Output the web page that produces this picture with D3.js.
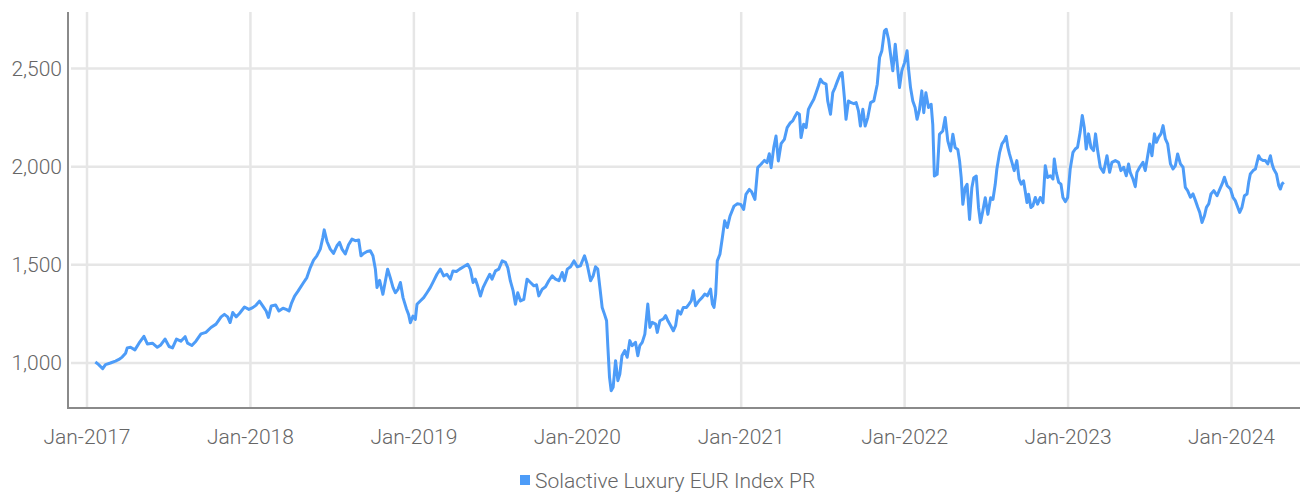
<!DOCTYPE html>
<html>
<head>
<meta charset="utf-8">
<script src="https://cdn.jsdelivr.net/npm/d3@7"></script>
<style>
  body { margin: 0; background: #fff; }
  text { font-family: Roboto, "Noto Sans", sans-serif; font-weight: 300; fill: #666; }
</style>
</head>
<body>
<div id="viz"></div>
<script>
"use strict";

// index level (decimal year -> value)
var years = [
	2017.051, 2017.07, 2017.096, 2017.113, 2017.143, 2017.174, 2017.195, 2017.215, 2017.236, 2017.246,
	2017.266, 2017.293, 2017.318, 2017.348, 2017.369, 2017.4, 2017.43, 2017.451, 2017.477, 2017.502,
	2017.523, 2017.547, 2017.574, 2017.6, 2017.615, 2017.641, 2017.666, 2017.697, 2017.727, 2017.758,
	2017.789, 2017.82, 2017.84, 2017.86, 2017.875, 2017.891, 2017.912, 2017.932, 2017.963, 2017.99,
	2018.014, 2018.035, 2018.055, 2018.076, 2018.096, 2018.11, 2018.127, 2018.154, 2018.174, 2018.199,
	2018.219, 2018.236, 2018.25, 2018.27, 2018.291, 2018.325, 2018.345, 2018.366, 2018.386, 2018.406,
	2018.427, 2018.443, 2018.451, 2018.468, 2018.488, 2018.508, 2018.529, 2018.545, 2018.56, 2018.58,
	2018.6, 2018.621, 2018.641, 2018.662, 2018.676, 2018.692, 2018.713, 2018.733, 2018.749, 2018.764,
	2018.774, 2018.79, 2018.81, 2018.825, 2018.839, 2018.855, 2018.872, 2018.886, 2018.902, 2018.917,
	2018.933, 2018.953, 2018.967, 2018.978, 2018.994, 2019.009, 2019.019, 2019.039, 2019.06, 2019.08,
	2019.1, 2019.121, 2019.141, 2019.162, 2019.182, 2019.202, 2019.223, 2019.239, 2019.26, 2019.28,
	2019.304, 2019.329, 2019.345, 2019.362, 2019.376, 2019.39, 2019.407, 2019.423, 2019.443, 2019.464,
	2019.478, 2019.499, 2019.519, 2019.54, 2019.56, 2019.574, 2019.59, 2019.607, 2019.621, 2019.635,
	2019.652, 2019.672, 2019.692, 2019.713, 2019.734, 2019.75, 2019.764, 2019.785, 2019.805, 2019.825,
	2019.846, 2019.866, 2019.887, 2019.907, 2019.921, 2019.938, 2019.958, 2019.979, 2019.999, 2020.019,
	2020.044, 2020.06, 2020.081, 2020.097, 2020.111, 2020.125, 2020.138, 2020.152, 2020.166, 2020.179,
	2020.187, 2020.197, 2020.207, 2020.219, 2020.234, 2020.248, 2020.26, 2020.273, 2020.29, 2020.305,
	2020.321, 2020.335, 2020.356, 2020.37, 2020.382, 2020.397, 2020.413, 2020.431, 2020.444, 2020.458,
	2020.479, 2020.489, 2020.505, 2020.525, 2020.54, 2020.554, 2020.571, 2020.587, 2020.601, 2020.615,
	2020.632, 2020.648, 2020.668, 2020.683, 2020.697, 2020.709, 2020.723, 2020.744, 2020.764, 2020.779,
	2020.795, 2020.815, 2020.826, 2020.836, 2020.846, 2020.856, 2020.872, 2020.887, 2020.901, 2020.917,
	2020.934, 2020.958, 2020.979, 2020.999, 2021.015, 2021.029, 2021.05, 2021.064, 2021.084, 2021.101,
	2021.121, 2021.142, 2021.158, 2021.172, 2021.183, 2021.199, 2021.213, 2021.227, 2021.244, 2021.264,
	2021.281, 2021.301, 2021.315, 2021.325, 2021.342, 2021.356, 2021.366, 2021.382, 2021.397, 2021.411,
	2021.427, 2021.444, 2021.458, 2021.472, 2021.485, 2021.499, 2021.519, 2021.529, 2021.546, 2021.56,
	2021.574, 2021.589, 2021.607, 2021.617, 2021.631, 2021.641, 2021.656, 2021.672, 2021.689, 2021.703,
	2021.717, 2021.729, 2021.744, 2021.758, 2021.774, 2021.791, 2021.811, 2021.832, 2021.846, 2021.86,
	2021.876, 2021.887, 2021.901, 2021.913, 2021.927, 2021.942, 2021.954, 2021.968, 2021.982, 2021.999,
	2022.015, 2022.023, 2022.036, 2022.05, 2022.064, 2022.076, 2022.091, 2022.105, 2022.117, 2022.13,
	2022.146, 2022.162, 2022.172, 2022.182, 2022.199, 2022.213, 2022.233, 2022.248, 2022.264, 2022.281,
	2022.295, 2022.309, 2022.325, 2022.336, 2022.346, 2022.356, 2022.37, 2022.382, 2022.397, 2022.411,
	2022.423, 2022.438, 2022.452, 2022.464, 2022.478, 2022.493, 2022.509, 2022.526, 2022.54, 2022.554,
	2022.564, 2022.581, 2022.595, 2022.609, 2022.621, 2022.631, 2022.641, 2022.656, 2022.67, 2022.686,
	2022.7, 2022.713, 2022.727, 2022.737, 2022.748, 2022.758, 2022.772, 2022.784, 2022.799, 2022.813,
	2022.829, 2022.846, 2022.86, 2022.874, 2022.891, 2022.907, 2022.915, 2022.927, 2022.942, 2022.956,
	2022.968, 2022.983, 2022.997, 2023.013, 2023.03, 2023.044, 2023.058, 2023.074, 2023.087, 2023.099,
	2023.111, 2023.125, 2023.14, 2023.156, 2023.168, 2023.181, 2023.197, 2023.217, 2023.238, 2023.254,
	2023.268, 2023.289, 2023.309, 2023.323, 2023.34, 2023.356, 2023.37, 2023.38, 2023.397, 2023.411,
	2023.421, 2023.438, 2023.458, 2023.472, 2023.487, 2023.499, 2023.513, 2023.528, 2023.54, 2023.554,
	2023.568, 2023.581, 2023.595, 2023.609, 2023.626, 2023.642, 2023.656, 2023.67, 2023.687, 2023.703,
	2023.717, 2023.731, 2023.748, 2023.764, 2023.779, 2023.793, 2023.805, 2023.819, 2023.834, 2023.846,
	2023.86, 2023.874, 2023.891, 2023.911, 2023.928, 2023.942, 2023.956, 2023.973, 2023.993, 2024.009,
	2024.023, 2024.038, 2024.05, 2024.064, 2024.079, 2024.095, 2024.105, 2024.115, 2024.132, 2024.146,
	2024.156, 2024.166, 2024.177, 2024.193, 2024.207, 2024.222, 2024.238, 2024.248, 2024.258, 2024.275,
	2024.289, 2024.299, 2024.309, 2024.32
];

var values = [
	1005, 993, 971, 992, 1000, 1010, 1018, 1030, 1050, 1077,
	1080, 1067, 1101, 1136, 1097, 1101, 1080, 1092, 1122, 1084,
	1077, 1122, 1111, 1134, 1101, 1089, 1111, 1148, 1156, 1181,
	1198, 1235, 1248, 1235, 1206, 1257, 1235, 1252, 1285, 1273,
	1282, 1295, 1315, 1290, 1265, 1232, 1290, 1295, 1265, 1279,
	1273, 1265, 1302, 1341, 1366, 1410, 1435, 1486, 1524, 1546,
	1580, 1640, 1678, 1619, 1580, 1558, 1597, 1614, 1580, 1555,
	1602, 1631, 1623, 1626, 1546, 1558, 1568, 1572, 1546, 1478,
	1384, 1421, 1350, 1418, 1478, 1435, 1384, 1358, 1375, 1410,
	1333, 1278, 1247, 1205, 1239, 1222, 1299, 1316, 1333, 1358,
	1384, 1418, 1452, 1478, 1444, 1452, 1427, 1469, 1466, 1478,
	1490, 1503, 1478, 1410, 1427, 1392, 1341, 1384, 1418, 1452,
	1427, 1469, 1478, 1520, 1512, 1486, 1418, 1367, 1299, 1358,
	1316, 1324, 1427, 1410, 1393, 1398, 1342, 1376, 1388, 1419,
	1444, 1427, 1419, 1461, 1419, 1478, 1490, 1520, 1490, 1495,
	1546, 1503, 1419, 1444, 1490, 1478, 1385, 1283, 1249, 1215,
	1080, 927, 859, 876, 1012, 910, 944, 1037, 1063, 1029,
	1114, 1088, 1105, 1037, 1088, 1105, 1147, 1300, 1181, 1207,
	1198, 1156, 1215, 1224, 1241, 1215, 1190, 1164, 1190, 1266,
	1249, 1283, 1283, 1300, 1317, 1368, 1292, 1317, 1334, 1351,
	1342, 1376, 1300, 1283, 1351, 1520, 1554, 1639, 1724, 1690,
	1749, 1799, 1811, 1808, 1782, 1859, 1884, 1872, 1833, 1995,
	2012, 2032, 2020, 2066, 1995, 2097, 2156, 2029, 2117, 2139,
	2199, 2224, 2233, 2250, 2275, 2267, 2148, 2216, 2199, 2292,
	2318, 2343, 2377, 2411, 2445, 2428, 2420, 2335, 2267, 2377,
	2403, 2437, 2474, 2479, 2352, 2241, 2335, 2326, 2321, 2326,
	2284, 2207, 2292, 2207, 2250, 2326, 2335, 2420, 2556, 2590,
	2692, 2700, 2649, 2573, 2488, 2624, 2522, 2403, 2488, 2530,
	2590, 2505, 2403, 2335, 2301, 2241, 2292, 2386, 2275, 2377,
	2301, 2318, 2216, 1952, 1961, 2165, 2182, 2250, 2131, 2080,
	2165, 2097, 2088, 2029, 1944, 1808, 1893, 1910, 1731, 1893,
	1944, 1952, 1791, 1714, 1774, 1842, 1757, 1842, 1833, 1910,
	1988, 2073, 2116, 2133, 2154, 2099, 2065, 2022, 1980, 2031,
	1937, 1911, 1928, 1877, 1817, 1860, 1792, 1800, 1843, 1809,
	1843, 1817, 2005, 1945, 1954, 1937, 2039, 1971, 1920, 1911,
	1843, 1822, 1843, 1988, 2073, 2090, 2099, 2176, 2261, 2201,
	2090, 2167, 2099, 2082, 2167, 2082, 1997, 1971, 2056, 1971,
	2022, 2031, 2022, 1980, 1997, 1954, 2014, 1971, 1937, 1898,
	1971, 1997, 2022, 1980, 2056, 2116, 2056, 2167, 2124, 2150,
	2167, 2209, 2141, 2116, 2014, 1988, 2005, 2065, 2014, 1997,
	1895, 1878, 1844, 1861, 1827, 1793, 1767, 1716, 1750, 1793,
	1810, 1861, 1878, 1852, 1886, 1912, 1946, 1903, 1886, 1844,
	1827, 1793, 1767, 1793, 1852, 1861, 1920, 1963, 1980, 1988,
	2022, 2056, 2039, 2031, 2031, 2014, 2056, 2014, 1988, 1963,
	1903, 1886, 1912, 1920
];

var tickYears = [2017, 2018, 2019, 2020, 2021, 2022, 2023, 2024];
var tickValues = [1000, 1500, 2000, 2500];
var seriesName = "Solactive Luxury EUR Index PR";

var lineColor = "#4d9cf8";
var gridColor = "#e6e6e6";
var axisColor = "#8a8a8a";

var yearToDate = function(y) {
	var whole = Math.floor(y);
	return new Date(Date.UTC(whole, 0, 1) + (y - whole) * 365.25 * 864e5);
};

var data = years.map(function(y, i) {
	return { date: yearToDate(y), value: values[i] };
});

var width = 1306,
	height = 496,
	plotLeft = 68,
	plotRight = 1300,
	plotTop = 12,
	plotBottom = 408;

var x = d3.scaleUtc()
	.domain([yearToDate(2017), yearToDate(2024)])
	.range([87, 1231.5]);

var y = d3.scaleLinear()
	.domain([1000, 2500])
	.range([363, 68.5]);

var svg = d3.select("#viz")
	.append("svg")
	.attr("width", width)
	.attr("height", height);

// gridlines
svg.append("g")
	.selectAll("line")
	.data(tickValues)
	.enter()
	.append("line")
	.attr("x1", plotLeft + 3)
	.attr("x2", plotRight)
	.attr("y1", function(d) { return y(d) })
	.attr("y2", function(d) { return y(d) })
	.attr("stroke", gridColor)
	.attr("stroke-width", 2.5);

svg.append("g")
	.selectAll("line")
	.data(tickYears)
	.enter()
	.append("line")
	.attr("x1", function(d) { return x(yearToDate(d)) })
	.attr("x2", function(d) { return x(yearToDate(d)) })
	.attr("y1", plotTop)
	.attr("y2", plotBottom)
	.attr("stroke", gridColor)
	.attr("stroke-width", 2.5);

// axis lines
svg.append("line")
	.attr("x1", plotLeft).attr("x2", plotLeft)
	.attr("y1", plotTop).attr("y2", plotBottom + 1)
	.attr("stroke", axisColor)
	.attr("stroke-width", 2);

svg.append("line")
	.attr("x1", plotLeft).attr("x2", plotRight)
	.attr("y1", plotBottom).attr("y2", plotBottom)
	.attr("stroke", axisColor)
	.attr("stroke-width", 2);

// tick labels
var fmtValue = d3.format(",");
var fmtDate = d3.utcFormat("%b-%Y");

svg.append("g")
	.selectAll("text")
	.data(tickValues)
	.enter()
	.append("text")
	.attr("x", plotLeft - 6)
	.attr("y", function(d) { return y(d) })
	.attr("dy", "0.35em")
	.attr("text-anchor", "end")
	.attr("font-size", "21px")
	.text(function(d) { return fmtValue(d) });

svg.append("g")
	.selectAll("text")
	.data(tickYears)
	.enter()
	.append("text")
	.attr("x", function(d) { return x(yearToDate(d)) })
	.attr("y", 444)
	.attr("text-anchor", "middle")
	.attr("font-size", "21px")
	.text(function(d) { return fmtDate(yearToDate(d)) });

// series
var line = d3.line()
	.x(function(d) { return x(d.date) })
	.y(function(d) { return y(d.value) });

svg.append("path")
	.datum(data)
	.attr("d", line)
	.attr("fill", "none")
	.attr("stroke", lineColor)
	.attr("stroke-width", 3)
	.attr("stroke-linejoin", "round");

// legend
var legend = svg.append("g")
	.attr("transform", "translate(520,475)");

legend.append("rect")
	.attr("width", 10)
	.attr("height", 10)
	.attr("fill", lineColor);

legend.append("text")
	.attr("x", 15)
	.attr("y", 13)
	.attr("font-size", "21px")
	.text(seriesName);
</script>
</body>
</html>
